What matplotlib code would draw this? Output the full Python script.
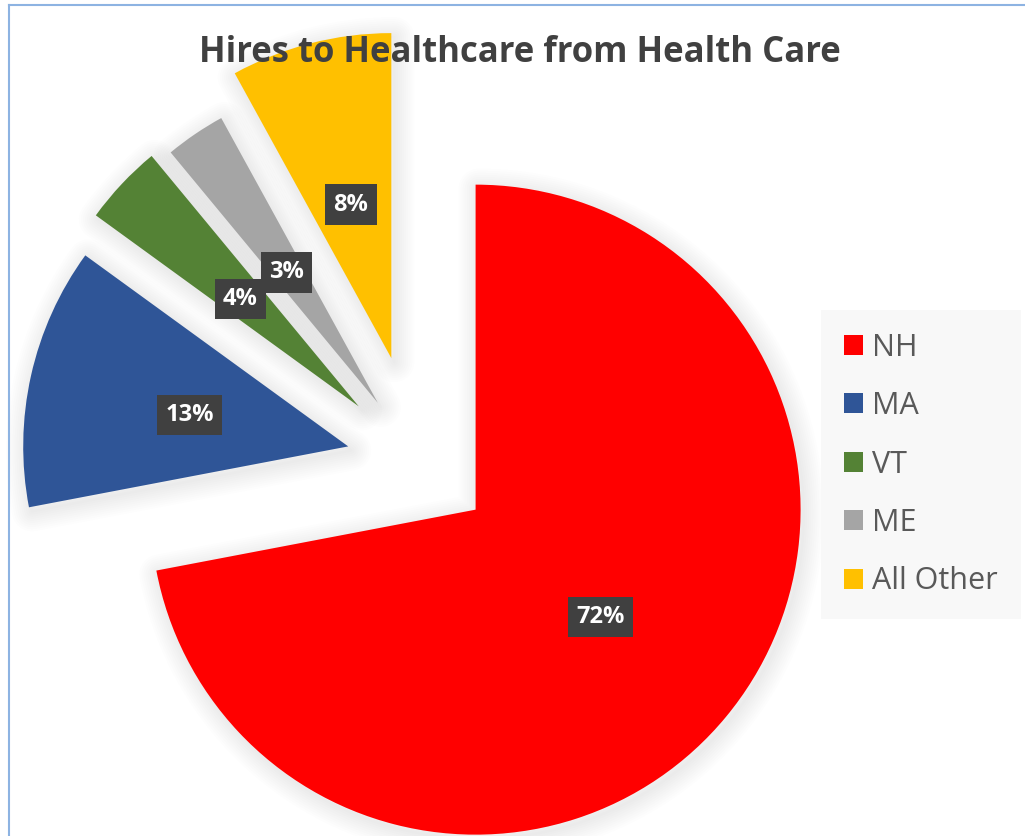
import matplotlib.pyplot as plt
from matplotlib.patches import Wedge
from matplotlib.lines import Line2D

# data
labels = ["NH", "MA", "VT", "ME", "All Other"]
shares = [72, 13, 4, 3, 8]
colors = ["#FF0000", "#2F5597", "#548235", "#A5A5A5", "#FFC000"]
explode = [0.23, 0.22, 0.25, 0.22, 0.33]   # fraction of radius

W, H = 1025, 836
fig = plt.figure(figsize=(W / 100, H / 100), dpi=100)
fig.patch.set_facecolor("white")

# axes in pixel units (y up)
ax = fig.add_axes([0, 0, 1, 1])

cx, cy, r = 418, H - 462, 325

wedges, texts, autotexts = ax.pie(
    shares, colors=colors, explode=[e * r for e in explode], startangle=90,
    counterclock=False, center=(cx, cy), radius=r, autopct="%.0f%%",
    pctdistance=0.5, frame=True, wedgeprops=dict(linewidth=0),
)
ax.set_xlim(0, W)
ax.set_ylim(0, H)
ax.axis("off")

# soft shadow under each slice
for w in wedges:
    for lw in range(2, 30, 3):
        sh = Wedge((w.center[0] + 3, w.center[1] - 4), w.r, w.theta1, w.theta2,
                   fc="none", ec="black", lw=lw, alpha=0.008, zorder=0.5,
                   joinstyle="round")
        ax.add_patch(sh)

for t in autotexts:
    t.set_color("white")
    t.set_fontsize(17)
    t.set_fontweight("bold")
    t.set_family("Open Sans")
    x, y = t.get_position()
    t.set_position((x, y - 4))
    t.set_bbox(dict(boxstyle="square,pad=0.35", fc="#404040", ec="none"))

fig.text(520 / W, 1 - 53 / H, "Hires to Healthcare from Health Care",
         ha="center", va="center", fontsize=25, fontweight="bold",
         color="#404040", family="Open Sans", zorder=5)

leg = ax.legend(wedges, labels, loc="upper left",
                bbox_to_anchor=(830 / W, 1 - 319 / H),
                frameon=True, facecolor="#f7f7f7", edgecolor="none",
                handlelength=0.63, handleheight=0.63,
                handletextpad=0.3, labelspacing=0.93, borderpad=0.45,
                borderaxespad=0, prop=dict(family="Open Sans", size=22))
leg.get_frame().set_boxstyle("square")
for t in leg.get_texts():
    t.set_color("#595959")

# thin blue border on the left and top edges
fig.add_artist(Line2D([9 / W, 9 / W], [0, 1 - 5 / H], transform=fig.transFigure,
                      color="#8DB3E2", lw=1.5))
fig.add_artist(Line2D([9 / W, 1], [1 - 5 / H, 1 - 5 / H], transform=fig.transFigure,
                      color="#8DB3E2", lw=1.5))

fig.savefig("out.png", dpi=100)
